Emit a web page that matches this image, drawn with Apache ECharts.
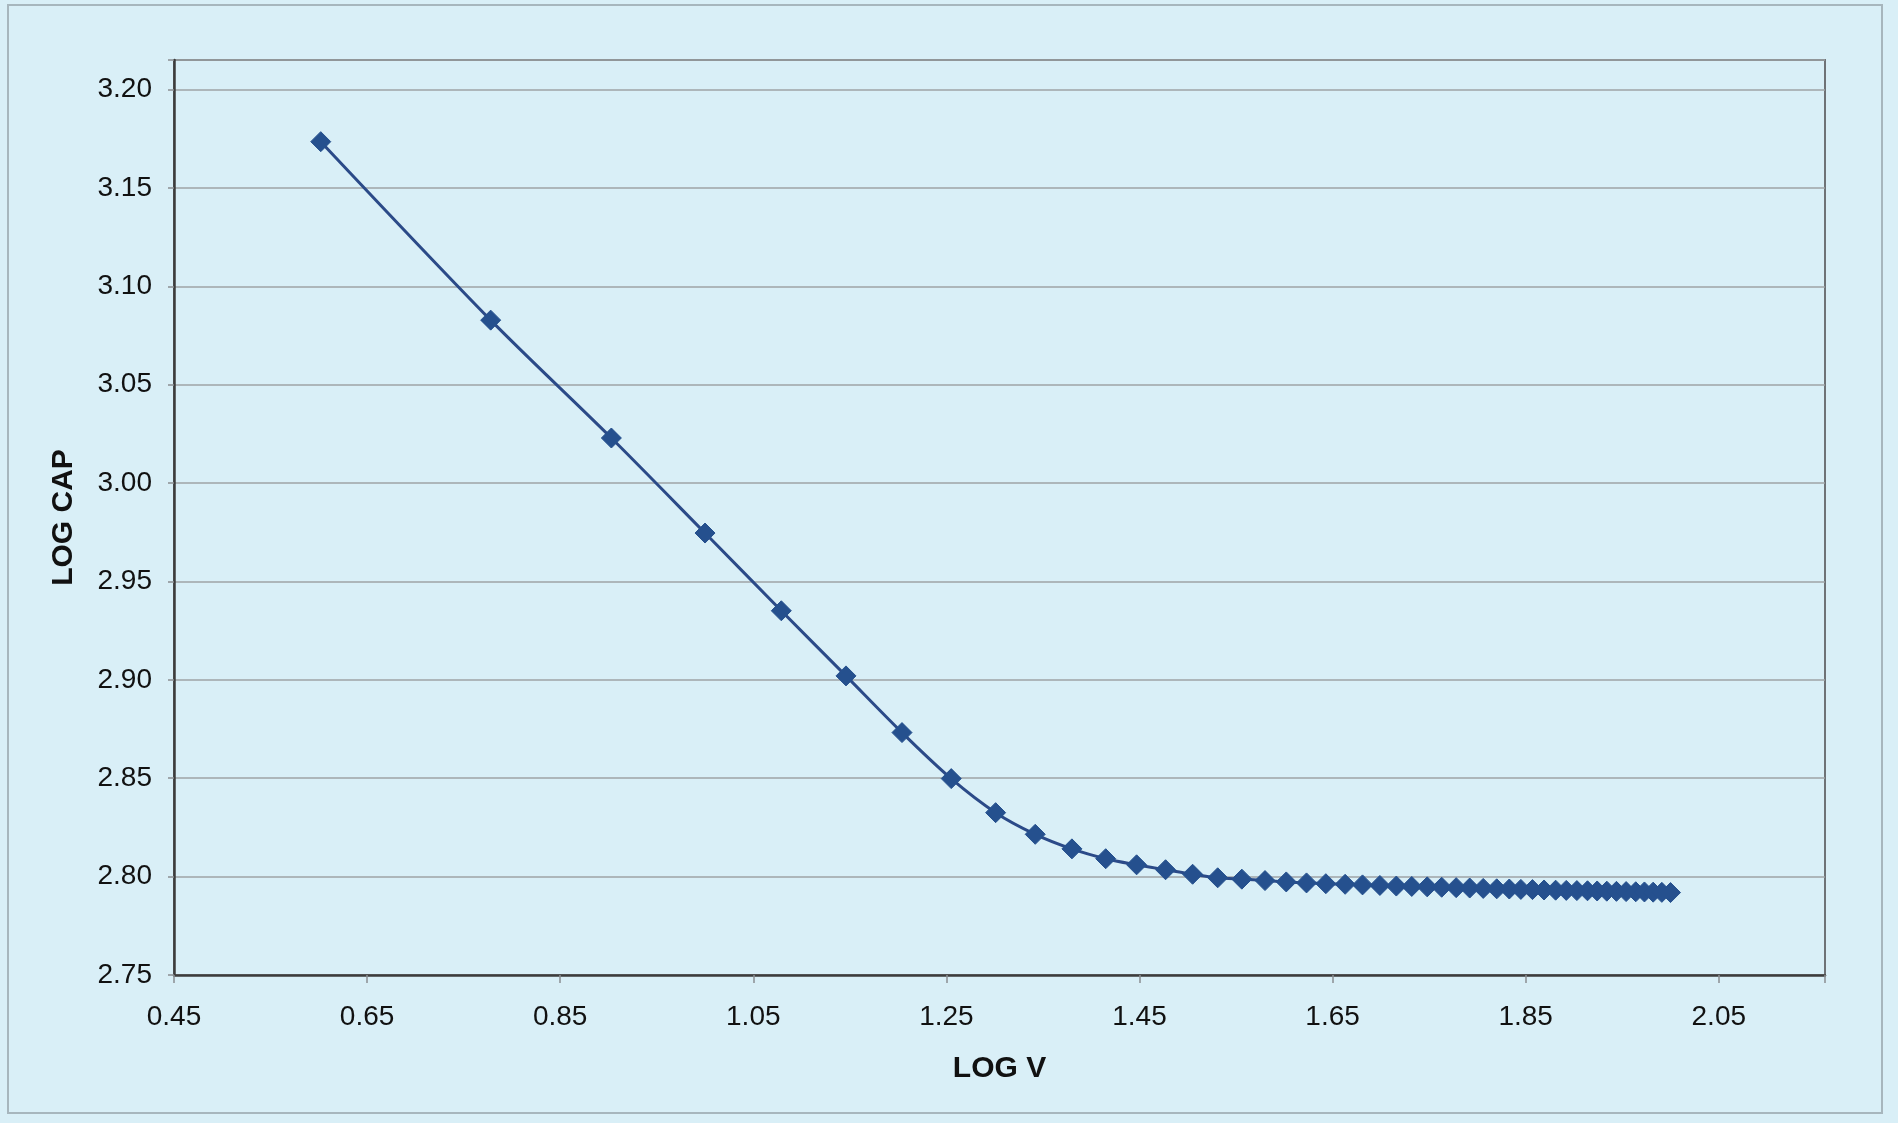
<!DOCTYPE html>
<html>
<head>
<meta charset="utf-8">
<script src="https://cdn.jsdelivr.net/npm/echarts@6/dist/echarts.min.js"></script>
<style>
html,body{margin:0;padding:0;background:#d9eff7;}
#chart{width:1898px;height:1123px;}
</style>
</head>
<body>
<div id="chart"></div>
<script>
// LOG V (x) values
const logV = [0.602, 0.778, 0.903, 1.000, 1.079, 1.146, 1.204, 1.255, 1.301, 1.342,
  1.380, 1.415, 1.447, 1.477, 1.505, 1.531, 1.556, 1.580, 1.602, 1.623,
  1.643, 1.663, 1.681, 1.699, 1.716, 1.732, 1.748, 1.763, 1.778, 1.792,
  1.806, 1.820, 1.833, 1.845, 1.857, 1.869, 1.881, 1.892, 1.903, 1.914,
  1.924, 1.934, 1.944, 1.954, 1.964, 1.973, 1.982, 1.991, 2.000];
// LOG CAP (y) values
const logCap = [3.1735, 3.0828, 3.0229, 2.9746, 2.9351, 2.9020, 2.8732, 2.8498, 2.8325, 2.8215,
  2.8141, 2.8091, 2.8060, 2.8035, 2.8012, 2.7994, 2.7987, 2.7980, 2.7973, 2.7968,
  2.7964, 2.7961, 2.7958, 2.7955, 2.7952, 2.7950, 2.7948, 2.7946, 2.7944, 2.7942,
  2.7940, 2.7938, 2.7937, 2.7935, 2.7934, 2.7932, 2.7931, 2.7930, 2.7929, 2.7928,
  2.7927, 2.7926, 2.7925, 2.7924, 2.7923, 2.7922, 2.7921, 2.7920, 2.7919];
const xTitle = 'LOG V';
const yTitle = 'LOG CAP';

const points = logV.map((x, i) => [x, logCap[i]]);
const font = '"Liberation Sans", Arial, sans-serif';

const chart = echarts.init(document.getElementById('chart'));
chart.setOption({
  backgroundColor: '#d9eff7',
  animation: false,
  graphic: [{
    type: 'rect', silent: true, z: -1,
    shape: {x: 8, y: 5, width: 1874, height: 1108},
    style: {fill: 'none', stroke: '#a7b6bd', lineWidth: 2}
  }],
  grid: {
    left: 174, top: 60, right: 73, bottom: 148,
    show: true, borderColor: '#6e7276', borderWidth: 2, backgroundColor: 'transparent'
  },
  xAxis: {
    type: 'value', min: 0.45, max: 2.16, interval: 0.2,
    name: xTitle, nameLocation: 'middle', nameGap: 79,
    nameTextStyle: {fontFamily: font, fontSize: 30, fontWeight: 'bold', color: '#111'},
    axisLine: {show: true, onZero: false, lineStyle: {color: '#3c3c3c', width: 2.5}},
    axisTick: {show: true, inside: false, length: 8, lineStyle: {color: '#8a8f93', width: 1.5}},
    axisLabel: {
      margin: 28, fontFamily: font, fontSize: 28, color: '#111',
      formatter: v => { const k = (v - 0.45) / 0.2; return Math.abs(k - Math.round(k)) < 1e-6 ? v.toFixed(2) : ''; }
    },
    splitLine: {show: false}
  },
  yAxis: {
    type: 'value', min: 2.75, max: 3.215, interval: 0.05,
    name: yTitle, nameLocation: 'middle', nameGap: 95, nameRotate: 90,
    nameTextStyle: {fontFamily: font, fontSize: 30, fontWeight: 'bold', color: '#111'},
    axisLine: {show: true, onZero: false, lineStyle: {color: '#3c3c3c', width: 2.5}},
    axisTick: {show: true, inside: false, length: 6, lineStyle: {color: '#8a8f93', width: 1.5}},
    axisLabel: {
      margin: 22, fontFamily: font, fontSize: 28, color: '#111',
      formatter: v => { const k = v / 0.05; return Math.abs(k - Math.round(k)) < 1e-6 ? v.toFixed(2) : ''; }
    },
    splitLine: {show: true, lineStyle: {color: '#9ea3a6', width: 1.5}}
  },
  series: [{
    type: 'line',
    data: points,
    smooth: 0.3,
    symbol: 'diamond',
    symbolSize: 20,
    showAllSymbol: true,
    lineStyle: {color: '#2b4a88', width: 3},
    itemStyle: {color: '#25508e', borderColor: '#25508e', borderWidth: 1}
  }]
});
</script>
</body>
</html>
